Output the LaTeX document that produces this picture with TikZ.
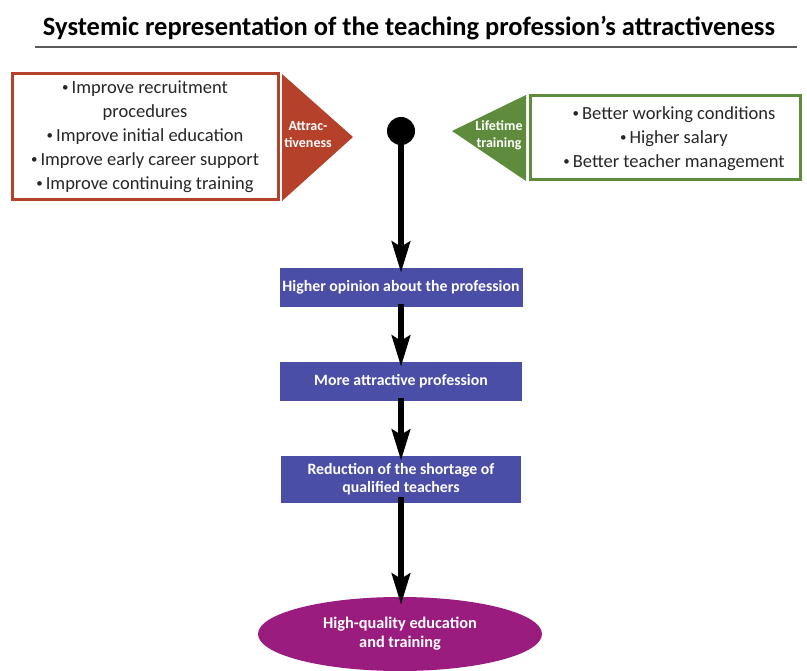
\documentclass[tikz,border=0pt]{standalone}
\usepackage{fontspec}
\setmainfont{Carlito}
\usetikzlibrary{arrows.meta,shapes.geometric}
\definecolor{brick}{HTML}{B5412B}
\definecolor{leaf}{HTML}{5E8C3C}
\definecolor{slate}{HTML}{4B4EA6}
\definecolor{plum}{HTML}{9A1C7E}
\definecolor{rule}{HTML}{5A5A5A}
\newcommand{\bul}{\raisebox{0.12em}{\scalebox{0.7}{•}}\,}
\tikzset{
  flow/.style={line width=6.5pt,-{Stealth[length=31pt,width=18pt,inset=5pt]}},
  stepbox/.style={fill=slate,text=white,font=\bfseries\fontsize{15.8}{18}\selectfont,align=center,inner sep=0pt},
  listbox/.style={line width=3pt,fill=white,inner sep=0pt},
  listtext/.style={align=center,font=\fontsize{18.5}{24}\selectfont,text=black!85},
  tritext/.style={text=white,align=center,font=\bfseries\fontsize{14}{17}\selectfont}
}
\begin{document}
\begin{tikzpicture}[x=1pt,y=-1pt]
\useasboundingbox (0,0) rectangle (807,671);

% title and rule
\node (title) at (409,28) {\bfseries\fontsize{26.5}{30}\selectfont Systemic representation of the teaching profession’s attractiveness};
\draw[rule,line width=1.5pt] (35,47) -- (797,47);

% left block: measures for attractiveness
\draw[brick,listbox] (12,74) rectangle (278,200);
\node[listtext] (left) at (145,137) {\bul Improve recruitment\\procedures\\\bul Improve initial education\\\bul Improve early career support\\\bul Improve continuing training};
\fill[brick] (282,74) -- (353,137) -- (282,201) -- cycle;
\node[tritext] (attr) at (308,135) {Attrac-\\tiveness};

% right block: measures for lifetime training
\draw[leaf,listbox] (530,96) rectangle (800,180);
\node[listtext] (right) at (674,139) {\bul Better working conditions\\\bul Higher salary\\\bul Better teacher management};
\fill[leaf] (526,95) -- (452,131) -- (526,181) -- cycle;
\node[tritext] (life) at (499,135) {Lifetime\\training};

% chain of consequences
\node[circle,fill=black,minimum size=28pt,inner sep=0pt] (dot) at (401,131) {};
\node[stepbox,minimum width=243pt,minimum height=39pt] (b1) at (401,287.5) {Higher opinion about the profession};
\node[stepbox,minimum width=242pt,minimum height=39pt] (b2) at (401,381.5) {More attractive profession};
\node[stepbox,minimum width=240pt,minimum height=47pt] (b3) at (401,479.5) {Reduction of the shortage of\\qualified teachers};
\node[ellipse,fill=plum,text=white,align=center,font=\bfseries\fontsize{16.3}{19}\selectfont,minimum width=284pt,minimum height=74pt,inner sep=0pt] (goal) at (400,634) {High-quality education\\and training};

\draw[flow] (dot.center) -- ([yshift=-5pt]b1.north);
\draw[flow] ([yshift=3pt]b1.south) -- ([yshift=-5pt]b2.north);
\draw[flow] ([yshift=3pt]b2.south) -- ([yshift=-5pt]b3.north);
\draw[flow] ([yshift=6pt]b3.south) -- ([yshift=-8pt]b3.south |- goal.north);
\end{tikzpicture}
\end{document}
